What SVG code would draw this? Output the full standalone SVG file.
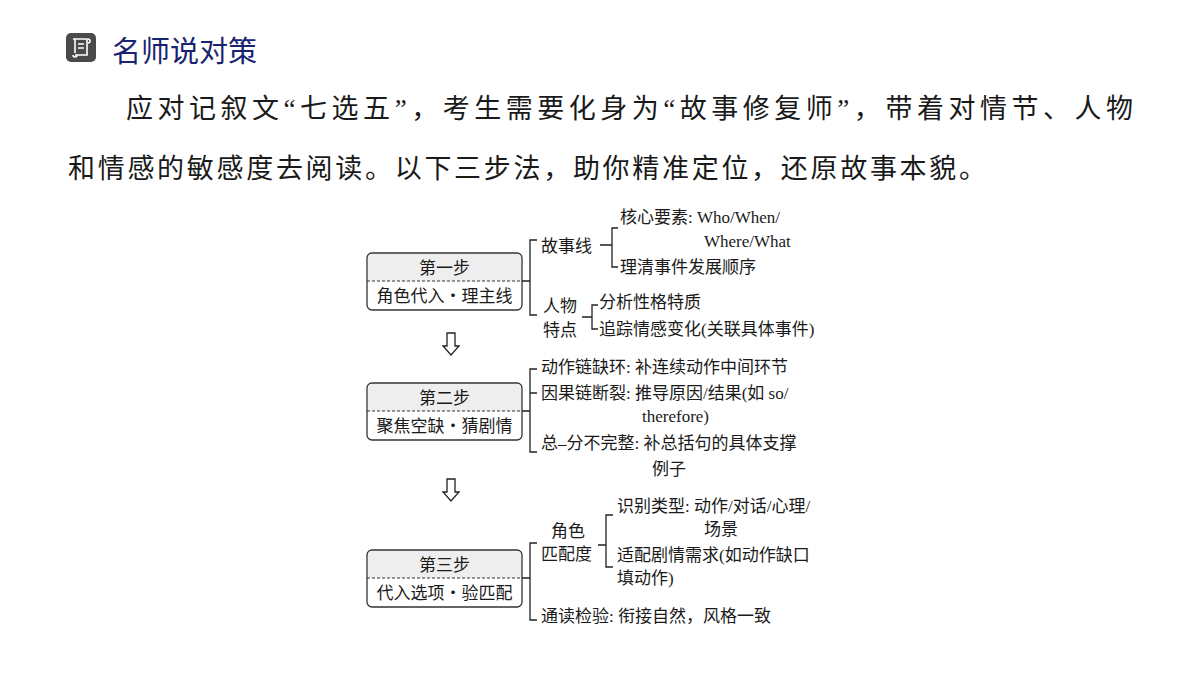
<svg xmlns="http://www.w3.org/2000/svg" width="1200" height="675" viewBox="0 0 1200 675">
<style>
text{font-family:"Liberation Serif","Noto Sans CJK SC",serif;fill:#1a1a1a}
.p{font-size:27px}
.d{font-size:17px}
.ln{stroke:#222;stroke-width:1.3;fill:none}
.box{fill:#fff;stroke:#333;stroke-width:1.3}
.top{fill:#eeeeee}
.dash{stroke:#333;stroke-width:1;stroke-dasharray:3,2}
</style>
<rect width="1200" height="675" fill="#fff"/>
<g id="header">
<rect x="66" y="33" width="30" height="29" rx="5" fill="#4a4a4a"/>
<path d="M73 39h14v16h-12M75 39v14M78 44h6M78 48h6M88 39a2 2 0 0 1 0 4M73 55a2 2 0 0 0 4 0" stroke="#fff" stroke-width="1.6" fill="none"/>
<text x="112" y="62" style="font-family:'Noto Sans CJK SC',sans-serif;font-size:29px;fill:#1a2370">名师说对策</text>
<text class="p" x="126" y="118" textLength="1007">应对记叙文“七选五”，考生需要化身为“故事修复师”，带着对情节、人物</text>
<text class="p" x="68" y="178" textLength="918">和情感的敏感度去阅读。以下三步法，助你精准定位，还原故事本貌。</text>
</g>
<g id="step1">
<rect class="box" x="367" y="253" width="155" height="57" rx="5"/>
<path class="top" d="M368 281V258a4 4 0 0 1 4-4h145a4 4 0 0 1 4 4v23z"/>
<line class="dash" x1="367" y1="281" x2="522" y2="281"/>
<text class="d" x="444.5" y="274" text-anchor="middle">第一步</text>
<text class="d" x="444.5" y="302" text-anchor="middle">角色代入・理主线</text>
</g>
<g id="step2">
<rect class="box" x="367" y="383" width="155" height="57" rx="5"/>
<path class="top" d="M368 411V388a4 4 0 0 1 4-4h145a4 4 0 0 1 4 4v23z"/>
<line class="dash" x1="367" y1="411" x2="522" y2="411"/>
<text class="d" x="444.5" y="404" text-anchor="middle">第二步</text>
<text class="d" x="444.5" y="432" text-anchor="middle">聚焦空缺・猜剧情</text>
</g>
<g id="step3">
<rect class="box" x="367" y="550" width="155" height="57" rx="5"/>
<path class="top" d="M368 578V555a4 4 0 0 1 4-4h145a4 4 0 0 1 4 4v23z"/>
<line class="dash" x1="367" y1="578" x2="522" y2="578"/>
<text class="d" x="444.5" y="571" text-anchor="middle">第三步</text>
<text class="d" x="444.5" y="599" text-anchor="middle">代入选项・验匹配</text>
</g>
<g id="connectors">
<path class="ln" d="M447 333v13h-4l8 9 8-9h-4v-13z" stroke-width="1.2"/>
<path class="ln" d="M447 479v13h-4l8 9 8-9h-4v-13z" stroke-width="1.2"/>
<path class="ln" d="M522 281h8M537 240h-7v75h7"/>
<path class="ln" d="M600 245h12M618 228h-6v39h6"/>
<path class="ln" d="M582 317h10M598 305h-6v24h6"/>
<path class="ln" d="M522 411h8M537 369h-7v83h7M530 393h7"/>
<path class="ln" d="M522 578h8M537 543h-7v77h7"/>
<path class="ln" d="M598 545h8M613 515h-7v52h7"/>
</g>
<g id="labels">
<text class="d" x="541" y="252">故事线</text>
<text class="d" x="620" y="223">核心要素: Who/When/</text>
<text class="d" x="704" y="247">Where/What</text>
<text class="d" x="620" y="273">理清事件发展顺序</text>
<text class="d" x="543" y="312">人物</text>
<text class="d" x="543" y="336">特点</text>
<text class="d" x="599" y="308">分析性格特质</text>
<text class="d" x="599" y="335">追踪情感变化(关联具体事件)</text>
<text class="d" x="541" y="373">动作链缺环: 补连续动作中间环节</text>
<text class="d" x="541" y="399">因果链断裂: 推导原因/结果(如 so/</text>
<text class="d" x="642" y="422">therefore)</text>
<text class="d" x="541" y="449">总–分不完整: 补总括句的具体支撑</text>
<text class="d" x="652" y="475">例子</text>
<text class="d" x="551" y="537">角色</text>
<text class="d" x="541" y="560">匹配度</text>
<text class="d" x="617" y="512">识别类型: 动作/对话/心理/</text>
<text class="d" x="704" y="535">场景</text>
<text class="d" x="617" y="561">适配剧情需求(如动作缺口</text>
<text class="d" x="617" y="584">填动作)</text>
<text class="d" x="541" y="622">通读检验: 衔接自然，风格一致</text>
</g>
</svg>
